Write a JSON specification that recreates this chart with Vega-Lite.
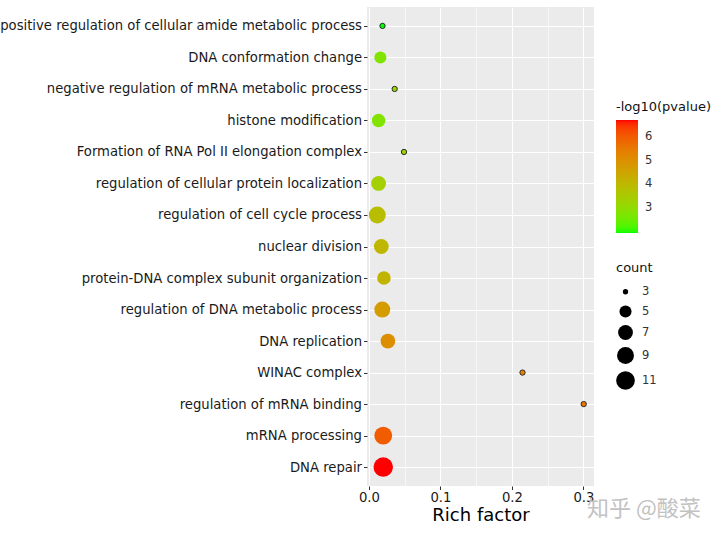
{
  "$schema": "https://vega.github.io/schema/vega-lite/v6.json",
  "width": 227,
  "height": 479,
  "autosize": {"type": "none"},
  "padding": {"left": 367, "top": 7, "right": 126, "bottom": 50},
  "background": "white",
  "title": {
    "text": "知乎 @酸菜",
    "orient": "bottom",
    "anchor": "start",
    "frame": "group",
    "dx": 220,
    "dy": -30,
    "font": "Noto Sans CJK SC",
    "fontSize": 22,
    "fontWeight": "normal",
    "color": "#C2C2C2"
  },
  "config": {
    "view": {"fill": "#EBEBEB", "stroke": null},
    "font": "DejaVu Sans",
    "axis": {
      "domain": false,
      "gridColor": "#FFFFFF",
      "tickColor": "#333333",
      "tickSize": 3.5,
      "tickWidth": 1,
      "labelColor": "#1A1A1A",
      "labelFontSize": 13.2,
      "titleFontWeight": "normal",
      "titleColor": "#000000"
    },
    "legend": {
      "padding": 0,
      "titleFontSize": 13,
      "titleFontWeight": "normal",
      "titleColor": "#111111",
      "labelFontSize": 11.5,
      "labelColor": "#333333"
    }
  },
  "data": {
    "values": [
      {"term": "positive regulation of cellular amide metabolic process", "richFactor": 0.019, "count": 3, "neglog10p": 1.96},
      {"term": "DNA conformation change", "richFactor": 0.016, "count": 5, "neglog10p": 2.77},
      {"term": "negative regulation of mRNA metabolic process", "richFactor": 0.036, "count": 3, "neglog10p": 3.15},
      {"term": "histone modification", "richFactor": 0.0135, "count": 6, "neglog10p": 2.8},
      {"term": "Formation of RNA Pol II elongation complex ", "richFactor": 0.049, "count": 3, "neglog10p": 3.3},
      {"term": "regulation of cellular protein localization", "richFactor": 0.0135, "count": 7, "neglog10p": 3.38},
      {"term": "regulation of cell cycle process", "richFactor": 0.0117, "count": 9, "neglog10p": 3.86},
      {"term": "nuclear division", "richFactor": 0.0173, "count": 7, "neglog10p": 4.05},
      {"term": "protein-DNA complex subunit organization", "richFactor": 0.021, "count": 6, "neglog10p": 4.1},
      {"term": "regulation of DNA metabolic process", "richFactor": 0.0187, "count": 8, "neglog10p": 4.71},
      {"term": "DNA replication", "richFactor": 0.0265, "count": 7, "neglog10p": 5.04},
      {"term": "WINAC complex", "richFactor": 0.2148, "count": 3, "neglog10p": 5.28},
      {"term": "regulation of mRNA binding", "richFactor": 0.3004, "count": 3, "neglog10p": 5.5},
      {"term": "mRNA processing", "richFactor": 0.02, "count": 10, "neglog10p": 5.99},
      {"term": "DNA repair", "richFactor": 0.02, "count": 12, "neglog10p": 6.7}
    ]
  },
  "mark": {"type": "circle", "opacity": 1, "stroke": "#2a2a2a"},
  "encoding": {
    "y": {
      "field": "term",
      "type": "nominal",
      "sort": null,
      "scale": {"padding": 0.6},
      "axis": {
        "title": null,
        "grid": true,
        "gridWidth": 1.1,
        "labelLimit": 0,
        "labelPadding": 2
      }
    },
    "x": {
      "field": "richFactor",
      "type": "quantitative",
      "scale": {"domain": [-0.0027, 0.3148], "nice": false, "zero": false},
      "axis": {
        "title": "Rich factor",
        "titleFontSize": 18,
        "titlePadding": 3,
        "values": [0, 0.05, 0.1, 0.15, 0.2, 0.25, 0.3],
        "labelExpr": "round(datum.value*20) % 2 == 1 ? '' : format(datum.value, '.1f')",
        "grid": true,
        "gridWidth": {"condition": {"test": "round(datum.value*20) % 2 == 1", "value": 0.55}, "value": 1.1},
        "tickOpacity": {"condition": {"test": "round(datum.value*20) % 2 == 1", "value": 0}, "value": 1},
        "labelPadding": 2,
        "labelFlush": false,
        "labelOverlap": false
      }
    },
    "color": {
      "field": "neglog10p",
      "type": "quantitative",
      "title": "-log10(pvalue)",
      "scale": {"domain": [1.96, 6.7], "range": ["#00FF00", "#FF0000"], "interpolate": "lab"},
      "legend": {
        "orient": "none",
        "legendX": 249,
        "legendY": 94,
        "direction": "vertical",
        "gradientLength": 113,
        "gradientThickness": 22,
        "gradientStrokeWidth": 0,
        "values": [3, 4, 5, 6],
        "titlePadding": 6,
        "labelOffset": 7
      }
    },
    "size": {
      "field": "count",
      "type": "quantitative",
      "title": "count",
      "scale": {"domain": [3, 5, 7, 9, 11, 12], "range": [28, 146, 219, 286, 350, 380]},
      "legend": {
        "orient": "none",
        "legendX": 249,
        "legendY": 255,
        "values": [3, 5, 7, 9, 11],
        "symbolFillColor": "#000000",
        "symbolStrokeWidth": 0,
        "symbolOpacity": 1,
        "rowPadding": 7,
        "titlePadding": 11,
        "labelOffset": 7
      }
    },
    "strokeWidth": {"condition": {"test": "datum.count <= 3", "value": 1}, "value": 0}
  }
}
